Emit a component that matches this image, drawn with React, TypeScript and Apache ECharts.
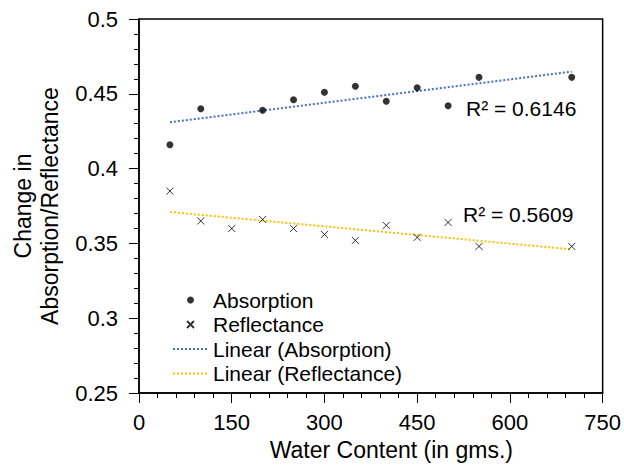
import React, { useEffect, useRef } from "react";
import * as echarts from "echarts";

const absorptionX = [50, 100, 200, 250, 300, 350, 400, 450, 500, 550, 700];
const absorptionY = [0.416, 0.44, 0.439, 0.446, 0.451, 0.455, 0.445, 0.454, 0.442, 0.461, 0.461];
const reflectanceX = [50, 100, 150, 200, 250, 300, 350, 400, 450, 500, 550, 700];
const reflectanceY = [0.385, 0.365, 0.36, 0.366, 0.36, 0.356, 0.352, 0.362, 0.354, 0.364, 0.348, 0.348];
const absorptionTrendX = [50, 700];
const absorptionTrendY = [0.431, 0.4648];
const reflectanceTrendX = [50, 700];
const reflectanceTrendY = [0.371, 0.346];
const r2Labels = ["R² = 0.6146", "R² = 0.5609"];

const FONT = "'Liberation Sans', Arial, sans-serif";

const zip = (xs: number[], ys: number[]) => xs.map((x, i) => [x, ys[i]]);

export default function App() {
  const ref = useRef<HTMLDivElement>(null);
  useEffect(() => {
    document.body.style.margin = "0";
    if (!ref.current) return;
    const chart = echarts.init(ref.current, undefined, { renderer: "svg" });
    const hiddenSymbol = { color: "rgba(0,0,0,0)", borderWidth: 0, opacity: 0 };
    chart.setOption({
      animation: false,
      backgroundColor: "#fff",
      textStyle: { fontFamily: FONT, color: "#000" },
      grid: {
        left: 139,
        right: 21,
        top: 19,
        bottom: 74,
        show: true,
        borderColor: "#000",
        borderWidth: 1.5,
        containLabel: false,
      },
      legend: {
        orient: "vertical",
        left: 167,
        top: 283,
        itemWidth: 35,
        itemHeight: 7,
        itemGap: 0.5,
        textStyle: { fontFamily: FONT, fontSize: 21, color: "#000", lineHeight: 24 },
        data: [
          { name: "Absorption" },
          { name: "Reflectance" },
          { name: "Linear (Absorption)", itemStyle: hiddenSymbol },
          { name: "Linear (Reflectance)", itemStyle: hiddenSymbol },
        ],
      },
      xAxis: {
        type: "value",
        min: 0,
        max: 750,
        interval: 150,
        name: "Water Content (in gms.)",
        nameLocation: "middle",
        nameGap: 45,
        nameTextStyle: { fontFamily: FONT, fontSize: 23, color: "#000", padding: [0, 0, 0, 41] },
        axisLine: { lineStyle: { color: "#000", width: 1.5 } },
        axisTick: { show: true, inside: false, length: 10, lineStyle: { color: "#000", width: 1 } },
        minorTick: { show: true, splitNumber: 5, length: 5, lineStyle: { color: "#000", width: 1 } },
        axisLabel: { fontFamily: FONT, fontSize: 22, color: "#000", margin: 18 },
        splitLine: { show: false },
      },
      yAxis: {
        type: "value",
        min: 0.25,
        max: 0.5,
        interval: 0.05,
        name: "Change in\nAbsorption/Reflectance",
        nameLocation: "middle",
        nameGap: 76,
        nameTextStyle: { fontFamily: FONT, fontSize: 23, color: "#000", lineHeight: 27 },
        axisLine: { show: true, lineStyle: { color: "#000", width: 1.5 } },
        axisTick: { show: true, inside: false, length: 10, lineStyle: { color: "#000", width: 1 } },
        minorTick: { show: true, splitNumber: 5, length: 5, lineStyle: { color: "#000", width: 1 } },
        axisLabel: { fontFamily: FONT, fontSize: 22, color: "#000", margin: 21 },
        splitLine: { show: false },
      },
      series: [
        {
          name: "Absorption",
          type: "scatter",
          symbol: "circle",
          symbolSize: 7,
          itemStyle: { color: "#000" },
          data: zip(absorptionX, absorptionY),
          z: 5,
        },
        {
          name: "Reflectance",
          type: "scatter",
          symbol: "path://M0,0L10,10M10,0L0,10",
          symbolSize: 7,
          itemStyle: { color: "rgba(0,0,0,0)", borderColor: "#000", borderWidth: 1 },
          data: zip(reflectanceX, reflectanceY),
          z: 5,
        },
        {
          name: "Linear (Absorption)",
          type: "line",
          symbol: "none",
          showSymbol: false,
          color: "#4472C4",
          lineStyle: { color: "#4472C4", width: 2, type: [2, 2] },
          data: zip(absorptionTrendX, absorptionTrendY),
          z: 3,
        },
        {
          name: "Linear (Reflectance)",
          type: "line",
          symbol: "none",
          showSymbol: false,
          color: "#FFC000",
          lineStyle: { color: "#FFC000", width: 2, type: [2, 2] },
          data: zip(reflectanceTrendX, reflectanceTrendY),
          z: 3,
        },
      ],
      graphic: [
        {
          type: "text",
          left: 466,
          top: 98,
          style: { text: r2Labels[0], font: `21px ${FONT}`, fill: "#000" },
        },
        {
          type: "text",
          left: 463,
          top: 204,
          style: { text: r2Labels[1], font: `21px ${FONT}`, fill: "#000" },
        },
      ],
    });
    return () => chart.dispose();
  }, []);
  return <div ref={ref} style={{ width: 624, height: 467 }} />;
}
